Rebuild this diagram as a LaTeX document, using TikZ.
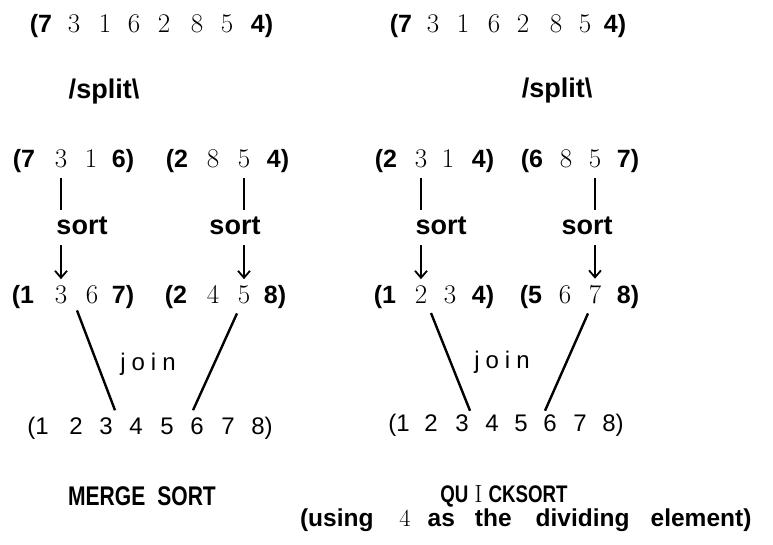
\documentclass[tikz,border=0pt]{standalone}
\usepackage{fontspec}
\newfontfamily\arial{Liberation Sans}
\newfontfamily\condb{Liberation Sans}[FakeStretch=0.78]
\usetikzlibrary{arrows.meta,calc}
\tikzset{
  every node/.style={inner sep=0pt, outer sep=0pt, anchor=base},
  bd/.style={font=\arial\bfseries\fontsize{25}{30}\selectfont},
  sd/.style={font=\rmfamily\fontsize{27}{30}\selectfont},
  rd/.style={font=\arial\fontsize{24}{28}\selectfont},
  lbl/.style={font=\arial\bfseries\fontsize{27}{32}\selectfont},
  jn/.style={font=\arial\fontsize{24}{28}\selectfont},
  ttl/.style={font=\condb\bfseries\fontsize{27}{32}\selectfont},
  vline/.style={line width=2.6pt},
  arr/.style={line width=1.8pt, -{Straight Barb[length=7pt,width=12pt,line width=1.8pt]}},
  jline/.style={line width=2.4pt}
}
\begin{document}
\begin{tikzpicture}[x=1pt,y=-1pt]
\useasboundingbox (0,0) rectangle (773,544);
% ---------- row 1 ----------
\node[bd] (L1a) at (41,32) {(7};
\node[sd] (L1b) at (74,32) {3};
\node[sd] (L1c) at (105,32) {1};
\node[sd] (L1d) at (134,32) {6};
\node[sd] (L1e) at (164,32) {2};
\node[sd] (L1f) at (197,32) {8};
\node[sd] (L1g) at (227,32) {5};
\node[bd] (L1h) at (262,32) {4)};
\node[bd] (R1a) at (401,32) {(7};
\node[sd] (R1b) at (433,32) {3};
\node[sd] (R1c) at (463,32) {1};
\node[sd] (R1d) at (494,32) {6};
\node[sd] (R1e) at (523,32) {2};
\node[sd] (R1f) at (556,32) {8};
\node[sd] (R1g) at (585,32) {5};
\node[bd] (R1h) at (615,32) {4)};
% ---------- split ----------
\node[lbl] (Lsplit) at (104,98) {/split\textbackslash};
\node[lbl] (Rsplit) at (557,97) {/split\textbackslash};
% ---------- row 2 ----------
\node[bd] (L2a) at (24,167) {(7};
\node[sd] (L2b) at (61,167) {3};
\node[sd] (L2c) at (91,167) {1};
\node[bd] (L2d) at (123,167) {6)};
\node[bd] (L2e) at (177,167) {(2};
\node[sd] (L2f) at (213,167) {8};
\node[sd] (L2g) at (244,167) {5};
\node[bd] (L2h) at (278,167) {4)};
\node[bd] (R2a) at (386,167) {(2};
\node[sd] (R2b) at (421,167) {3};
\node[sd] (R2c) at (448,167) {1};
\node[bd] (R2d) at (483,167) {4)};
\node[bd] (R2e) at (532,167) {(6};
\node[sd] (R2f) at (566,167) {8};
\node[sd] (R2g) at (595,167) {5};
\node[bd] (R2h) at (628,167) {7)};
% ---------- sort labels ----------
\node[lbl] (LsA) at (82,234) {sort};
\node[lbl] (LsB) at (235,234) {sort};
\node[lbl] (RsA) at (441,234) {sort};
\node[lbl] (RsB) at (587,234) {sort};
% ---------- row 3 ----------
\node[bd] (L3a) at (23,303) {(1};
\node[sd] (L3b) at (61,303) {3};
\node[sd] (L3c) at (92,303) {6};
\node[bd] (L3d) at (123,303) {7)};
\node[bd] (L3e) at (176,303) {(2};
\node[sd] (L3f) at (213,303) {4};
\node[sd] (L3g) at (244,303) {5};
\node[bd] (L3h) at (275,303) {8)};
\node[bd] (R3a) at (385,303) {(1};
\node[sd] (R3b) at (421,303) {2};
\node[sd] (R3c) at (450,303) {3};
\node[bd] (R3d) at (483,303) {4)};
\node[bd] (R3e) at (531,303) {(5};
\node[sd] (R3f) at (565,303) {6};
\node[sd] (R3g) at (595,303) {7};
\node[bd] (R3h) at (628,303) {8)};
% ---------- join labels ----------
\node[jn] (Ljoin) at (148,370) {j\hspace{6pt}o\hspace{6pt}i\hspace{6pt}n};
\node[jn] (Rjoin) at (502,368) {j\hspace{6pt}o\hspace{6pt}i\hspace{6pt}n};
% ---------- row 4 ----------
\node[rd] (L4a) at (38,434) {(1};
\node[rd] (L4b) at (76,434) {2};
\node[rd] (L4c) at (106,434) {3};
\node[rd] (L4d) at (136,434) {4};
\node[rd] (L4e) at (167,434) {5};
\node[rd] (L4f) at (197,434) {6};
\node[rd] (L4g) at (228,434) {7};
\node[rd] (L4h) at (262,434) {8)};
\node[rd] (R4a) at (399,431) {(1};
\node[rd] (R4b) at (431,431) {2};
\node[rd] (R4c) at (462,431) {3};
\node[rd] (R4d) at (492,431) {4};
\node[rd] (R4e) at (521,431) {5};
\node[rd] (R4f) at (550,431) {6};
\node[rd] (R4g) at (580,431) {7};
\node[rd] (R4h) at (613,431) {8)};
% ---------- titles ----------
\node[ttl] (Mtitle) at (142,505) {MERGE\hspace{12pt}SORT};
\node[ttl, font=\condb\bfseries\fontsize{24}{30}\selectfont] (Qtitle) at (504,502) {QU\hspace{6pt}{\normalfont\fontsize{25}{30}\selectfont I}\hspace{6pt}CKSORT};
\node[lbl, font=\arial\bfseries\fontsize{24.5}{30}\selectfont, anchor=base west] (Qnote) at (300,526)
  {(using\hspace{26pt}{\normalfont 4}\hspace{17pt}as\hspace{20pt}the\hspace{24pt}dividing\hspace{21pt}element)};
% ---------- connectors ----------
\foreach \top/\lab/\bot in {L2b/LsA/L3b, L2g/LsB/L3g, R2b/RsA/R3b, R2g/RsB/R3g}{
  \draw[vline, shorten <=11pt, shorten >=6pt] (\top.south) -- (\top.south |- \lab.north);
  \draw[arr, shorten <=11pt, shorten >=6pt] (\bot.north |- \lab.south) -- (\bot.north);
}
\draw[jline] ($(L3b.south)+(16,7)$) -- ($(L4c.north)+(9,-7)$);
\draw[jline] ($(L3g.south)+(-7,10)$) -- ($(L4f.north)+(-4,-7)$);
\draw[jline] ($(R3b.south)+(10,10)$) -- ($(R4c.north)+(8,-3.5)$);
\draw[jline] ($(R3g.south)+(-7,10)$) -- ($(R4f.north)+(-5,-3.5)$);
\end{tikzpicture}
\end{document}
